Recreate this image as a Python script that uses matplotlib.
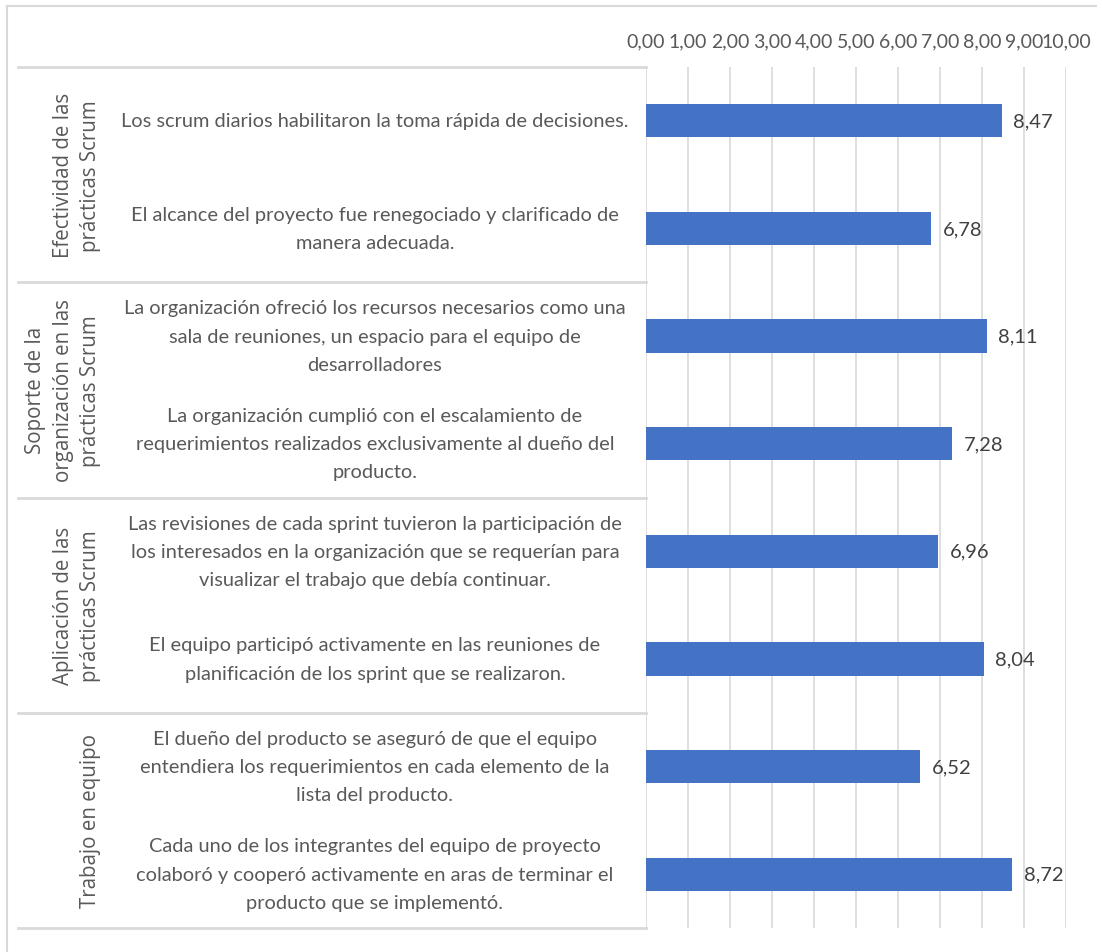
import matplotlib
matplotlib.use("Agg")
import matplotlib.pyplot as plt
from matplotlib.transforms import blended_transform_factory
from matplotlib.ticker import FuncFormatter, MultipleLocator
from matplotlib.lines import Line2D

groups = [
    "Efectividad de las\nprácticas Scrum",
    "Soporte de la\norganización en las\nprácticas Scrum",
    "Aplicación de las\nprácticas Scrum",
    "Trabajo en equipo",
]
items = [
    "Los scrum diarios habilitaron la toma rápida de decisiones.",
    "El alcance del proyecto fue renegociado y clarificado de\nmanera adecuada.",
    "La organización ofreció los recursos necesarios como una\nsala de reuniones, un espacio para el equipo de\ndesarrolladores",
    "La organización cumplió con el escalamiento de\nrequerimientos realizados exclusivamente al dueño del\nproducto.",
    "Las revisiones de cada sprint tuvieron la participación de\nlos interesados en la organización que se requerían para\nvisualizar el trabajo que debía continuar.",
    "El equipo participó activamente en las reuniones de\nplanificación de los sprint que se realizaron.",
    "El dueño del producto se aseguró de que el equipo\nentendiera los requerimientos en cada elemento de la\nlista del producto.",
    "Cada uno de los integrantes del equipo de proyecto\ncolaboró y cooperó activamente en aras de terminar el\nproducto que se implementó.",
]
values = [8.47, 6.78, 8.11, 7.28, 6.96, 8.04, 6.52, 8.72]
group_sizes = [2, 2, 2, 2]

W, H = 1103, 953
fig = plt.figure(figsize=(W / 100, H / 100), dpi=100)
fig.patch.set_facecolor("white")

def fx(px):
    return px / W

def fy(py):
    return 1 - py / H

ax = fig.add_axes([fx(646), fy(929), fx(1066) - fx(646), fy(68) - fy(929)])

text_color = "#595959"
grid_color = "#d9d9d9"
bar_color = "#4472C4"
font = "Lato"

ypos = list(range(len(values)))
ax.barh(ypos, values, height=0.31, color=bar_color, zorder=3)
ax.set_ylim(len(values) - 0.5, -0.5)
ax.set_xlim(0, 10)

for y, v in zip(ypos, values):
    ax.text(v + 0.28, y, f"{v:.2f}".replace(".", ","), va="center", ha="left",
            fontsize=14.5, color="#404040", family=font)

ax.xaxis.set_major_locator(MultipleLocator(1))
ax.xaxis.set_major_formatter(FuncFormatter(lambda x, p: f"{x:.2f}".replace(".", ",")))
ax.xaxis.tick_top()
ax.tick_params(axis="x", length=0, pad=13, labelsize=14, labelcolor=text_color)
for lab in ax.get_xticklabels():
    lab.set_family(font)
ax.set_yticks([])
ax.grid(axis="x", color=grid_color, linewidth=1.2, zorder=0)
for s in ax.spines.values():
    s.set_visible(False)

tr = blended_transform_factory(fig.transFigure, ax.transData)

# item labels
for y, t in zip(ypos, items):
    ax.text(fx(375), y, t, transform=tr, ha="center", va="center", multialignment="center",
            fontsize=14.4, color=text_color, family=font, linespacing=1.8)

# group labels and separators
start = 0
bounds = [-0.5]
for g, n in zip(groups, group_sizes):
    c = start + (n - 1) / 2
    ax.text(fx(101), c, g, transform=tr, ha="right", va="center", rotation=90,
            multialignment="center", fontsize=14.8, color=text_color,
            family="Open Sans", linespacing=1.4)
    start += n
    bounds.append(start - 0.5)

for b in bounds:
    ax.add_line(Line2D([fx(18), fx(646)], [b, b], transform=tr, color=grid_color,
                       linewidth=2, clip_on=False))

# outer chart border (top and left)
fig.add_artist(Line2D([fx(7), fx(7)], [fy(7), 0], transform=fig.transFigure,
                      color=grid_color, linewidth=1.5))
fig.add_artist(Line2D([fx(7), fx(1096)], [fy(7), fy(7)], transform=fig.transFigure,
                      color=grid_color, linewidth=1.5))

fig.savefig("out.png", dpi=100, facecolor="white")
